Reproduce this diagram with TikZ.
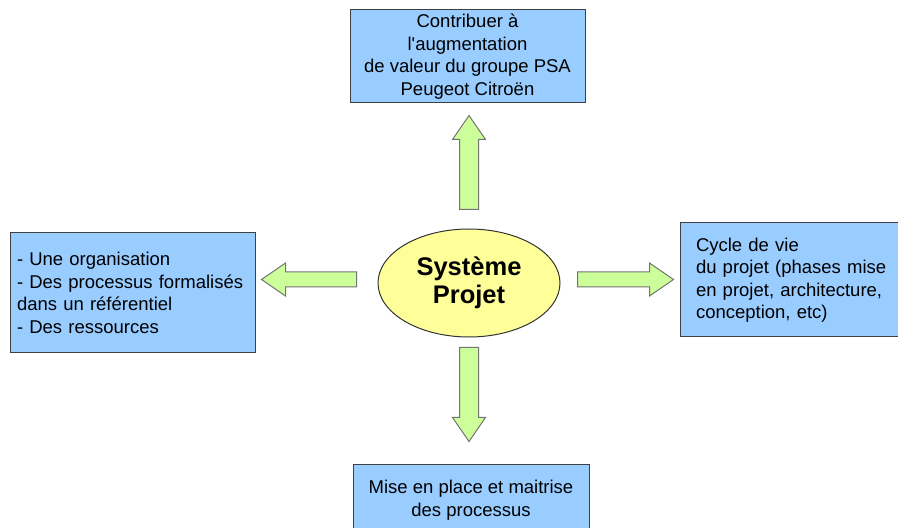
\documentclass[tikz,border=0pt]{standalone}
\usepackage{fontspec}
\setmainfont{Liberation Sans}
\usetikzlibrary{calc,shapes.geometric}
\definecolor{boxblue}{HTML}{99CCFF}
\definecolor{arrowgreen}{HTML}{CCFF99}
\definecolor{ovalyellow}{HTML}{FFFF99}
\tikzset{
  goalbox/.style={
    draw=black!75,
    fill=boxblue,
    line width=1pt,
    inner sep=0pt,
    font=\fontsize{18.5}{22.5}\selectfont
  },
  projectoval/.style={
    ellipse,
    draw=black!80,
    fill=ovalyellow,
    line width=1pt,
    inner sep=0pt,
    minimum width=182pt,
    minimum height=108pt,
    align=center,
    font=\bfseries\fontsize{25.5}{28}\selectfont
  },
  fatarrow/.style={
    draw=black!55,
    fill=arrowgreen,
    line width=1pt,
    line join=miter
  }
}
\newcommand{\blockarrow}[3]{%
  \draw[fatarrow] let \p1=(#1), \p2=(#2),
      \n1={atan2(\y2-\y1,\x2-\x1)}, \n2={veclen(\x2-\x1,\y2-\y1)} in
    [shift={(\p1)}, rotate=\n1]
    (0,-#3) -- ({\n2-24},-#3) -- ({\n2-24},-16.5) -- (\n2,0)
    -- ({\n2-24},16.5) -- ({\n2-24},#3) -- (0,#3) -- cycle;
}
\begin{document}
\begin{tikzpicture}[x=1pt,y=1pt]
            \useasboundingbox (0,0) rectangle (898,528);
            \node[projectoval] (sys) at (469,245) {Système\\Projet};
            \node[goalbox, minimum width=235pt, minimum height=93pt, align=center] (contrib) at (467.5,471.5)
                {Contribuer à\\l\textquotesingle augmentation\\de valeur du groupe PSA\\Peugeot Citroën};
            \node[goalbox, minimum width=245pt, minimum height=120pt, text width=231pt, align=left] (means) at (132.5,235)
                {- Une organisation\\- Des processus formalisés\\dans un référentiel\\- Des ressources};
            \node[goalbox, minimum width=230pt, minimum height=114pt, text width=198pt, align=left] (lifecycle) at (795,248)
                {Cycle de vie\\du projet (phases mise\\en projet, architecture,\\conception, etc)};
            \node[goalbox, minimum width=236pt, minimum height=70pt, align=center] (mise) at (471,28)
                {Mise en place et maitrise\\des processus};
            \coordinate (upfoot) at ($(sys.north)+(0,19)$);
            \coordinate (uptip) at ($(sys.north |- contrib.south)+(0,-12)$);
            \coordinate (downfoot) at ($(sys.south)+(0,-10)$);
            \coordinate (downtip) at ($(sys.south |- mise.north)+(0,23)$);
            \coordinate (leftfoot) at ($(sys.west)+(-21,3.5)$);
            \coordinate (lefttip) at ($(sys.west -| means.east)+(6,3.5)$);
            \coordinate (rightfoot) at ($(sys.east)+(17,3.5)$);
            \coordinate (righttip) at ($(sys.east -| lifecycle.west)+(-6,3.5)$);
            \blockarrow{upfoot}{uptip}{9.5}
            \blockarrow{downfoot}{downtip}{9.5}
            \blockarrow{leftfoot}{lefttip}{7.5}
            \blockarrow{rightfoot}{righttip}{7.5}
        \end{tikzpicture}
\end{document}
